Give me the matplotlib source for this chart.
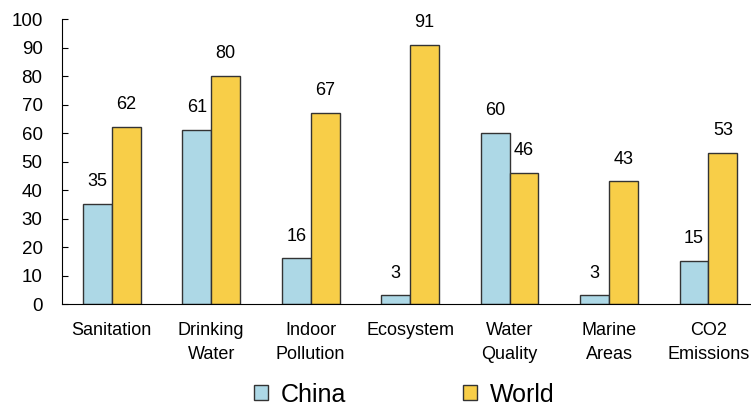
import numpy as np
import matplotlib.pyplot as plt

plt.rcParams['font.family'] = ['Liberation Sans', 'DejaVu Sans']

categories = ["Sanitation", "Drinking\nWater", "Indoor\nPollution", "Ecosystem",
              "Water\nQuality", "Marine\nAreas", "CO2\nEmissions"]
china = [35, 61, 16, 3, 60, 3, 15]
world = [62, 80, 67, 91, 46, 43, 53]

x = np.arange(len(categories))
width = 0.29

fig = plt.figure(figsize=(7.51, 4.09), dpi=100)
ax = fig.add_axes([0.0826, 0.2567, 0.927, 0.6968])

b1 = ax.bar(x - width / 2, china, width, color="#ADD8E6", edgecolor="#333333",
            linewidth=1, label="China")
b2 = ax.bar(x + width / 2, world, width, color="#F8CE48", edgecolor="#333333",
            linewidth=1, label="World")

# value labels above bars
for bars, vals in ((b1, china), (b2, world)):
    for rect, v in zip(bars, vals):
        ax.annotate(str(v), (rect.get_x() + rect.get_width() / 2, rect.get_height()),
                    xytext=(0, 10), textcoords="offset points",
                    ha="center", va="bottom", fontsize=13)

ax.set_xlim(-0.5, len(categories) - 0.5)
ax.set_ylim(0, 100)
ax.set_yticks(np.arange(0, 101, 10))
ax.set_xticks(x)
ax.set_xticklabels(categories, fontsize=13, linespacing=1.55)
ax.tick_params(axis="x", length=0, pad=13)
ax.tick_params(axis="y", direction="in", length=4, labelsize=13.5, pad=14)
ax.spines["top"].set_visible(False)
ax.spines["right"].set_visible(False)

fig.legend(handles=[b1, b2], loc="center", bbox_to_anchor=(0.538, 0.035), ncol=2,
           frameon=False, fontsize=18, handlelength=0.56, handleheight=0.56,
           columnspacing=4.7, handletextpad=0.5)

fig.savefig("out.png", dpi=100)
